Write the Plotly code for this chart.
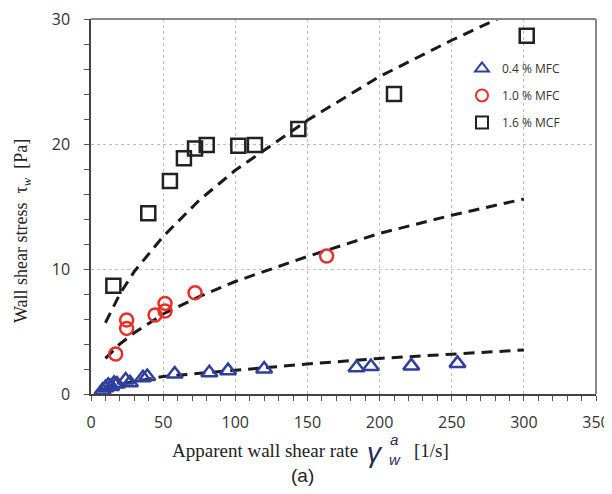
import plotly.graph_objects as go

# ---- data ----
mfc04_x = [8, 10, 12, 14, 16, 18, 24, 27, 36, 39, 58, 82, 95, 120, 184, 194, 222, 254]
mfc04_y = [0.3, 0.5, 0.7, 0.6, 0.85, 0.8, 1.12, 0.9, 1.3, 1.4, 1.6, 1.7, 1.87, 2.0, 2.1, 2.2, 2.25, 2.45]

mfc10_x = [17.1, 24.7, 24.7, 44.4, 51.3, 51.3, 72.1, 163.3]
mfc10_y = [3.2, 5.92, 5.25, 6.32, 7.25, 6.64, 8.1, 11.04]

mcf16_x = [15.5, 39.7, 54.7, 64.4, 72.1, 80.2, 102.1, 113.6, 143.7, 210, 302]
mcf16_y = [8.66, 14.46, 17.04, 18.85, 19.65, 19.92, 19.87, 19.92, 21.2, 24.0, 28.66]

fit_x = [10, 20, 30, 50, 75, 100, 150, 200, 250, 300]
fit04_y = [0.55, 0.8, 1.0, 1.4, 1.65, 1.92, 2.4, 2.85, 3.2, 3.52]
fit10_y = [2.85, 4.0, 4.9, 6.4, 7.8, 9.0, 11.0, 12.85, 14.3, 15.6]
fit16_y = [5.7, 8.0, 9.8, 12.6, 15.5, 17.9, 21.9, 25.4, 28.3, 31.0]

series_names = ["0.4 % MFC", "1.0 % MFC", "1.6 % MCF"]
x_ticks = [0, 50, 100, 150, 200, 250, 300, 350]
y_ticks = [0, 10, 20, 30]

BLUE = "#2f3f9c"
RED = "#e8302a"
BLACK = "#222222"

fig = go.Figure()

dash = "11px,7px"
for fy in (fit04_y, fit10_y, fit16_y):
    fig.add_trace(go.Scatter(x=fit_x, y=fy, mode="lines",
                             line=dict(color="#1a1a1a", width=3, dash=dash),
                             showlegend=False, hoverinfo="skip"))

fig.add_trace(go.Scatter(x=mfc04_x, y=mfc04_y, mode="markers", name=series_names[0],
                         legendgroup="a",
                         marker=dict(symbol="triangle-up-open", size=14, color=BLUE,
                                     line=dict(width=2.5, color=BLUE))))
fig.add_trace(go.Scatter(x=mfc10_x, y=mfc10_y, mode="markers", name=series_names[1],
                         legendgroup="b",
                         marker=dict(symbol="circle-open", size=13, color=RED,
                                     line=dict(width=2.5, color=RED))))
fig.add_trace(go.Scatter(x=mcf16_x, y=mcf16_y, mode="markers", name=series_names[2],
                         legendgroup="c",
                         marker=dict(symbol="square-open", size=14, color=BLACK,
                                     line=dict(width=2.5, color=BLACK))))

# page has an 8px body margin: plot area in page pixels is x 91..596, y 19..394
OFF = 8
PX0, PX1, PY0, PY1 = 91, 596, 19, 394
W, H = 604, 478
L = PX0 - OFF
T = PY0 - OFF
R = W - (PX1 - OFF)
B = H - (PY1 - OFF)

def px_x(px):
    return (px - PX0) / (PX1 - PX0)

def px_y(py):
    return (PY1 - py) / (PY1 - PY0)

tickfont = dict(family="Open Sans, sans-serif", size=16, color="#333333")
grid = dict(showgrid=True, gridcolor="#bdbdbd", gridwidth=1, griddash="dot")

fig.update_xaxes(range=[0, 350], tickvals=x_ticks, ticks="outside", ticklen=5, tickwidth=1,
                 tickcolor="#555555", showline=True, linecolor="#444444", linewidth=1.5,
                 zeroline=False, tickfont=tickfont, ticklabelstandoff=8, automargin=False,
                 ticklabeloverflow="allow",
                 minor=dict(dtick=10, ticks="outside", ticklen=5, tickcolor="#555555",
                            showgrid=False),
                 **grid)
fig.update_yaxes(range=[0, 30], tickvals=y_ticks, ticks="outside", ticklen=5, tickwidth=1,
                 tickcolor="#555555", showline=True, linecolor="#444444", linewidth=1.5,
                 zeroline=False, tickfont=tickfont, ticklabelstandoff=11, automargin=False,
                 ticklabeloverflow="allow",
                 minor=dict(dtick=2, ticks="outside", ticklen=5, tickcolor="#555555",
                            showgrid=False),
                 **grid)

# top / right border (grey)
fig.add_shape(type="line", xref="paper", yref="paper", x0=0, x1=1, y0=1, y1=1,
              line=dict(color="#888888", width=2))
fig.add_shape(type="line", xref="paper", yref="paper", x0=1, x1=1, y0=0, y1=1,
              line=dict(color="#888888", width=2))

serif = "Liberation Serif, Times New Roman, serif"
sans = "Liberation Sans, Arial, sans-serif"
ann = []
ann.append(dict(text="Apparent wall shear rate", x=px_x(360), y=px_y(450), xanchor="right",
                yanchor="middle", font=dict(family=serif, size=19, color="#222222")))
ann.append(dict(text="<i>γ</i>", x=px_x(365), y=px_y(452), xanchor="left", yanchor="middle",
                font=dict(family=sans, size=28, color="#1f2a55")))
ann.append(dict(text="<i>a</i>", x=px_x(388), y=px_y(439), xanchor="left", yanchor="middle",
                font=dict(family=sans, size=15, color="#1f2a55")))
ann.append(dict(text="<i>w</i>", x=px_x(387), y=px_y(459), xanchor="left", yanchor="middle",
                font=dict(family=sans, size=15, color="#1f2a55")))
ann.append(dict(text="[1/s]", x=px_x(412), y=px_y(450), xanchor="left", yanchor="middle",
                font=dict(family=serif, size=19, color="#222222")))
ann.append(dict(text="(a)", x=px_x(302), y=px_y(476), xanchor="center", yanchor="middle",
                font=dict(family=sans, size=19, color="#222222")))
ann.append(dict(text="Wall shear stress  τ<sub><i>w</i></sub>  [Pa]", x=px_x(22), y=px_y(231),
                xanchor="center", yanchor="middle", textangle=-90,
                font=dict(family=serif, size=18, color="#222222")))
for a in ann:
    a.update(xref="paper", yref="paper", showarrow=False)

fig.update_layout(
    width=W, height=H,
    margin=dict(l=L, r=R, t=T, b=B, pad=0, autoexpand=False),
    paper_bgcolor="white", plot_bgcolor="white",
    annotations=ann,
    legend=dict(x=px_x(462), y=px_y(54), xanchor="left", yanchor="top",
                bgcolor="rgba(0,0,0,0)", font=dict(family="Open Sans, sans-serif", size=12,
                                                   color="#333333"),
                itemsizing="constant", tracegroupgap=8, traceorder="grouped"),
)

fig.write_html("out.html")
